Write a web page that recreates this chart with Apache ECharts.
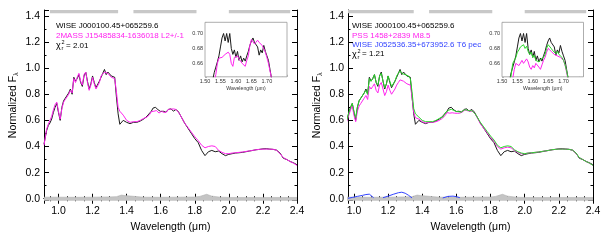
<!DOCTYPE html>
<html><head><meta charset="utf-8">
<script src="https://cdn.jsdelivr.net/npm/echarts@6/dist/echarts.min.js"></script>
<style>html,body{margin:0;padding:0;background:#fff}#c{width:614px;height:240px}</style>
</head><body><div id="c"></div>
<script>
// ---------- data ----------
const wl = [0.915,0.93,0.94,0.95,0.96,0.97,0.98,0.99,1.00,1.01,1.02,1.03,1.04,1.05,1.06,1.07,1.08,1.09,1.10,1.11,1.12,1.13,1.14,1.15,1.16,1.17,1.18,1.19,1.20,1.21,1.22,1.23,1.24,1.25,1.26,1.27,1.28,1.29,1.30,1.31,1.32,1.33,1.34,1.35,1.36,
 1.38,1.40,1.42,1.44,1.46,1.48,1.50,
 1.520,1.525,1.530,1.535,1.540,1.545,1.550,1.555,1.560,1.565,1.570,1.575,1.580,1.585,1.590,1.595,1.600,1.605,1.610,1.615,1.620,1.625,1.630,1.635,1.640,1.645,1.650,1.655,1.660,1.665,1.670,1.675,1.680,1.685,1.690,1.695,1.700,1.705,1.710,1.715,1.720,
 1.74,1.76,1.78,1.80,1.82,1.84,1.86,1.88,1.90,1.92,1.94,1.96,1.98,2.00,2.02,2.04,2.06,2.08,2.10,2.12,2.14,2.16,2.18,2.20,2.22,2.24,2.26,2.28,2.30,2.32,2.34,2.36,2.38,2.40];

// WISE J000100.45+065259.6 (black)
const target = [0.42,0.52,0.56,0.58,0.61,0.66,0.70,0.73,0.66,0.60,0.70,0.75,0.77,0.76,0.81,0.84,0.80,0.93,0.90,0.92,0.95,0.89,0.86,0.94,0.97,0.90,0.84,0.88,0.94,0.89,0.85,0.84,0.90,0.93,0.96,0.99,0.95,0.97,0.96,0.94,0.95,0.93,0.78,0.65,0.57,
 0.60,0.585,0.575,0.585,0.585,0.595,0.61,
 0.632,0.638,0.648,0.655,0.662,0.670,0.682,0.694,0.700,0.690,0.700,0.688,0.700,0.680,0.672,0.678,0.668,0.676,0.664,0.670,0.662,0.667,0.663,0.670,0.676,0.684,0.690,0.694,0.688,0.690,0.682,0.671,0.678,0.674,0.684,0.676,0.670,0.664,0.652,0.640,0.628,
 0.58,0.54,0.50,0.46,0.43,0.37,0.33,0.36,0.37,0.36,0.365,0.345,0.33,0.34,0.345,0.35,0.352,0.355,0.36,0.365,0.37,0.375,0.378,0.382,0.383,0.38,0.378,0.372,0.35,0.31,0.30,0.285,0.275,0.26];

// 2MASS J15485834-1636018 L2+/-1 (magenta, left)
const tplL2 = [0.41,0.53,0.57,0.60,0.63,0.68,0.72,0.74,0.67,0.61,0.69,0.74,0.76,0.77,0.80,0.83,0.81,0.92,0.89,0.93,0.96,0.90,0.87,0.95,0.97,0.89,0.83,0.87,0.93,0.88,0.84,0.83,0.89,0.94,0.95,0.97,0.96,0.96,0.95,0.93,0.94,0.92,0.82,0.70,0.67,
 0.64,0.60,0.585,0.59,0.59,0.60,0.615,
 0.625,0.630,0.636,0.645,0.660,0.667,0.666,0.668,0.670,0.672,0.671,0.675,0.672,0.660,0.656,0.668,0.667,0.670,0.666,0.667,0.660,0.662,0.656,0.664,0.670,0.684,0.692,0.693,0.686,0.688,0.691,0.688,0.690,0.684,0.683,0.675,0.668,0.660,0.650,0.640,0.630,
 0.58,0.545,0.51,0.475,0.445,0.41,0.39,0.40,0.405,0.40,0.37,0.355,0.345,0.345,0.35,0.352,0.355,0.358,0.362,0.366,0.37,0.375,0.378,0.38,0.38,0.38,0.378,0.372,0.345,0.315,0.30,0.285,0.272,0.255];

// PSS 1458+2839 M8.5 (magenta, right)
const tplM85 = [0.41,0.50,0.54,0.57,0.60,0.64,0.68,0.71,0.64,0.59,0.67,0.71,0.73,0.73,0.77,0.79,0.76,0.86,0.84,0.86,0.88,0.83,0.81,0.87,0.89,0.84,0.79,0.82,0.87,0.83,0.80,0.79,0.84,0.87,0.89,0.91,0.90,0.90,0.90,0.88,0.89,0.87,0.78,0.66,0.62,
 0.61,0.59,0.58,0.585,0.585,0.59,0.60,
 0.618,0.622,0.628,0.640,0.652,0.660,0.662,0.657,0.655,0.664,0.660,0.658,0.666,0.662,0.655,0.652,0.657,0.654,0.660,0.662,0.655,0.652,0.658,0.664,0.668,0.675,0.680,0.681,0.676,0.674,0.672,0.674,0.670,0.672,0.668,0.670,0.664,0.658,0.648,0.638,0.628,
 0.575,0.54,0.505,0.47,0.44,0.40,0.38,0.39,0.395,0.39,0.37,0.355,0.345,0.345,0.35,0.352,0.355,0.358,0.362,0.366,0.37,0.375,0.378,0.38,0.38,0.38,0.378,0.372,0.345,0.315,0.30,0.285,0.272,0.255];

// composite fit (green, right)
const composite = [0.42,0.52,0.56,0.58,0.61,0.66,0.70,0.73,0.67,0.62,0.70,0.75,0.77,0.77,0.81,0.83,0.80,0.92,0.90,0.92,0.95,0.89,0.87,0.94,0.96,0.90,0.85,0.88,0.94,0.90,0.86,0.85,0.90,0.94,0.96,0.98,0.96,0.96,0.95,0.94,0.94,0.92,0.82,0.69,0.65,
 0.625,0.60,0.59,0.59,0.59,0.60,0.615,
 0.625,0.632,0.645,0.660,0.664,0.668,0.675,0.678,0.682,0.680,0.685,0.680,0.683,0.676,0.672,0.675,0.668,0.671,0.664,0.666,0.662,0.665,0.663,0.668,0.672,0.680,0.685,0.686,0.680,0.677,0.676,0.673,0.676,0.672,0.674,0.668,0.664,0.658,0.650,0.640,0.630,
 0.585,0.55,0.515,0.48,0.45,0.41,0.39,0.40,0.405,0.40,0.375,0.36,0.35,0.345,0.35,0.352,0.355,0.358,0.362,0.366,0.37,0.375,0.378,0.38,0.38,0.38,0.378,0.372,0.35,0.315,0.30,0.285,0.272,0.255];

// WISE J052536.35+673952.6 T6 pec (blue, scaled)
const t6Wl   = [0.965,0.99,1.02,1.05,1.07,1.09,1.10,1.115,null,1.17,1.20,1.23,1.26,1.28,1.30,1.32,1.34,null,1.52,1.55,1.58,1.60,1.62];
const t6Flux = [0.003,0.010,0.018,0.026,0.032,0.035,0.028,0.008,null,0.008,0.020,0.034,0.046,0.050,0.042,0.026,0.006,null,0.006,0.018,0.020,0.016,0.008];

// noise spectrum (gray)
const noiseWl = [0.915,1.00,1.10,1.20,1.30,1.34,1.35,1.37,1.39,1.40,1.50,1.60,1.70,1.80,1.83,1.85,1.86,1.87,1.88,1.90,1.95,2.00,2.20,2.40];
const noise   = [0.012,0.012,0.011,0.012,0.014,0.016,0.026,0.028,0.024,0.016,0.012,0.011,0.012,0.013,0.018,0.026,0.022,0.034,0.020,0.020,0.012,0.010,0.010,0.010];

// gray bands along the top
const bandStart = [0.95, 1.44, 2.00];
const bandEnd   = [1.35, 1.81, 2.36];

const legendLeft  = ['WISE J000100.45+065259.6', '2MASS J15485834-1636018 L2+/-1'];
const legendRight = ['WISE J000100.45+065259.6', 'PSS 1458+2839 M8.5', 'WISE J052536.35+673952.6 T6 pec'];
const chiLeft = '2.01', chiRight = '1.21';

// ---------- chart ----------
const F = '"Liberation Sans", Arial, sans-serif';
const C = {black:'#1a1a1a', mag:'#ff22ee', green:'#2ad82a', blue:'#3344ff', gray:'#c4c4c4'};
const pairs = (xs, ys) => xs.map((x, i) => (x === null ? [null, null] : [x, ys[i]]));
const isMult = (v, s) => Math.abs(v / s - Math.round(v / s)) < 1e-6;

function mainX(gi, min, top) {
  return {type:'value', gridIndex:gi, min:min, max:2.4, minInterval:0.2, maxInterval:0.2,
    position: top ? 'top' : 'bottom',
    axisLine:{show:true, lineStyle:{color:'#000', width:1}},
    axisTick:{show:true, inside:true, length:5, lineStyle:{color:'#000'}},
    minorTick:{show:true, splitNumber:4, length:2.5, lineStyle:{color:'#000'}},
    splitLine:{show:false},
    axisLabel:{show:!top, margin:5, fontFamily:F, fontSize:10.5, color:'#000',
      formatter: v => isMult(v, 0.2) ? v.toFixed(1) : ''},
    name: top ? '' : 'Wavelength (μm)', nameLocation:'middle', nameGap:17,
    nameTextStyle:{fontFamily:F, fontSize:10.5, color:'#000'}};
}
function mainY(gi, right, gap) {
  return {type:'value', gridIndex:gi, min:-0.015, max:1.445, minInterval:0.2, maxInterval:0.2,
    position: right ? 'right' : 'left',
    axisLine:{show:true, lineStyle:{color:'#000', width:1}},
    axisTick:{show:true, inside:true, length:5, lineStyle:{color:'#000'}},
    minorTick:{show:true, splitNumber:2, length:2.5, lineStyle:{color:'#000'}},
    splitLine:{show:false},
    axisLabel:{show:!right, margin:4, fontFamily:F, fontSize:10.5, color:'#000',
      formatter: v => isMult(v, 0.2) ? v.toFixed(1) : ''},
    name: right ? '' : '{a|Normalized F}{b|λ}', nameLocation:'middle', nameGap:gap,
    nameTextStyle:{fontFamily:F, fontSize:10.5, color:'#000',
      rich:{a:{fontFamily:F, fontSize:10.5, color:'#000'}, b:{fontFamily:F, fontSize:6.5, color:'#000', padding:[7,0,0,0]}}}};
}
function insetX(gi) {
  return {type:'value', gridIndex:gi, min:1.50, max:1.765, minInterval:0.05, maxInterval:0.05,
    axisLine:{show:false}, splitLine:{show:false},
    axisTick:{show:true, inside:true, length:2, lineStyle:{color:'#888', width:0.6}},
    axisLabel:{margin:2, fontFamily:F, fontSize:5.5, color:'#333',
      formatter: v => (isMult(v, 0.05) && v < 1.72) ? v.toFixed(2) : ''},
    name:'Wavelength (μm)', nameLocation:'middle', nameGap:8,
    nameTextStyle:{fontFamily:F, fontSize:5.2, color:'#333'}};
}
function insetY(gi) {
  return {type:'value', gridIndex:gi, min:0.642, max:0.715, minInterval:0.02, maxInterval:0.02,
    axisLine:{show:false}, splitLine:{show:false},
    axisTick:{show:true, inside:true, length:2, lineStyle:{color:'#888', width:0.6}},
    axisLabel:{margin:2, fontFamily:F, fontSize:5.5, color:'#333',
      formatter: v => isMult(v, 0.02) ? v.toFixed(2) : ''}};
}
function line(name, xi, yi, xs, ys, color, z) {
  return {type:'line', name:name, xAxisIndex:xi, yAxisIndex:yi, data:pairs(xs, ys),
    showSymbol:false, symbol:'none', clip:true, connectNulls:false, animation:false, z:z,
    lineStyle:{color:color, width:1}};
}
function noiseSeries(xi, yi, xmin) {
  return {type:'line', xAxisIndex:xi, yAxisIndex:yi, data:pairs(noiseWl, noise),
    showSymbol:false, symbol:'none', clip:true, animation:false, z:1,
    lineStyle:{color:'#b0b0b0', width:0.6}, areaStyle:{color:C.gray, opacity:1, origin:'start'},
    markArea:{silent:true, itemStyle:{color:'#c8c8c8'},
      data: bandStart.map((b, i) => [{xAxis:Math.max(b, xmin), yAxis:1.42}, {xAxis:bandEnd[i], yAxis:1.445}])}};
}
function txt(x, y, s, color, size) {
  return {type:'text', x:x, y:y, silent:true,
    style:{text:s, fill:color, font: size + 'px ' + F, align:'left', verticalAlign:'middle'}};
}
function chi(x, y, val) {
  return [txt(x, y, 'χ', '#000', 9), txt(x + 5.5, y - 3.2, '2', '#000', 5.5),
          txt(x + 5.5, y + 2.8, 'r', '#000', 5.5), txt(x + 10, y, '= ' + val, '#000', 8)];
}

const xMinL = 0.915, xMinR = 0.965;
const option = {
  backgroundColor:'#fff', animation:false,
  grid:[
    {left:44, top:10, width:253, height:190.7},
    {left:348, top:10, width:245, height:190.7},
    {left:205, top:22.3, width:82, height:54.5, show:true, backgroundColor:'#fff', borderColor:'#999', borderWidth:0.8, z:3},
    {left:502, top:22.3, width:81.5, height:54.5, show:true, backgroundColor:'#fff', borderColor:'#999', borderWidth:0.8, z:3}
  ],
  xAxis:[mainX(0, xMinL, false), mainX(0, xMinL, true), mainX(1, xMinR, false), mainX(1, xMinR, true), insetX(2), insetX(3)],
  yAxis:[mainY(0, false, 24), mainY(0, true, 0), mainY(1, false, 24), mainY(1, true, 0), insetY(2), insetY(3)],
  series:[
    noiseSeries(0, 0, xMinL),
    line('target', 0, 0, wl, target, C.black, 3),
    line('L2', 0, 0, wl, tplL2, C.mag, 4),
    noiseSeries(2, 2, xMinR),
    line('target', 2, 2, wl, target, C.black, 3),
    line('M8.5', 2, 2, wl, tplM85, C.mag, 4),
    line('T6', 2, 2, t6Wl, t6Flux, C.blue, 5),
    line('comp', 2, 2, wl, composite, C.green, 6),
    line('target', 4, 4, wl, target, C.black, 7),
    line('L2', 4, 4, wl, tplL2, C.mag, 8),
    line('target', 5, 5, wl, target, C.black, 7),
    line('M8.5', 5, 5, wl, tplM85, C.mag, 8),
    line('comp', 5, 5, wl, composite, C.green, 9)
  ],
  graphic:[
    txt(56, 26, legendLeft[0], '#000', 8),
    txt(56, 35.8, legendLeft[1], C.mag, 8),
    ...chi(56, 45.4, chiLeft),
    txt(352, 26, legendRight[0], '#000', 8),
    txt(352, 35.3, legendRight[1], C.mag, 8),
    txt(352, 44.6, legendRight[2], C.blue, 8),
    ...chi(352, 54.2, chiRight)
  ]
};
const chart = echarts.init(document.getElementById('c'), null, {renderer:'canvas', width:614, height:240});
chart.setOption(option);
</script></body></html>
